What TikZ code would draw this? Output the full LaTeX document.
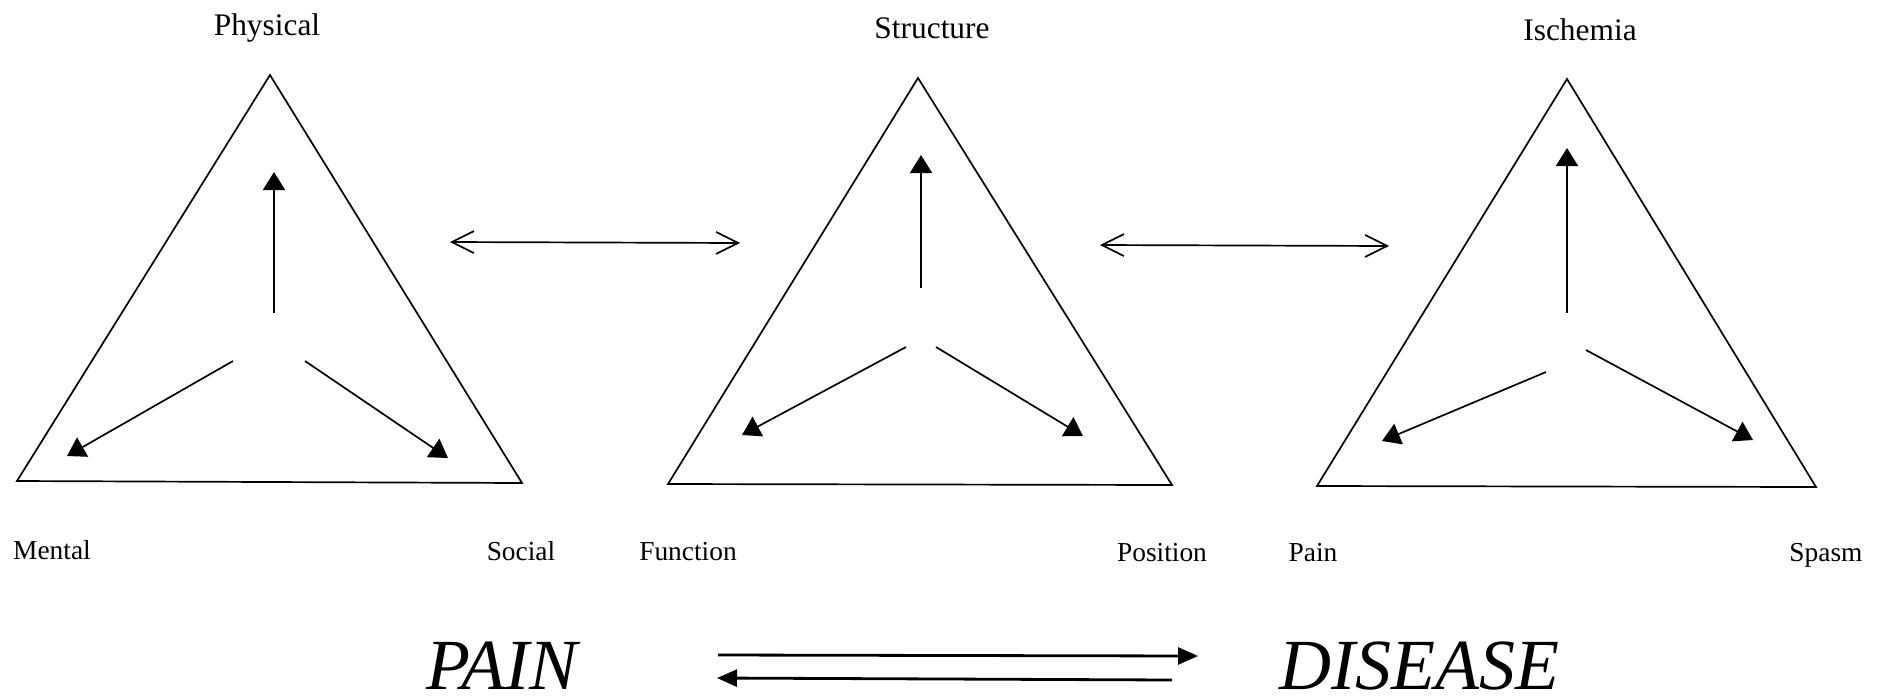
\documentclass[tikz,border=0pt]{standalone}
\usepackage{fontspec}
\setmainfont{Liberation Serif}
\usetikzlibrary{arrows.meta}

\begin{document}
\begin{tikzpicture}[x=0.5pt,y=-0.5pt,
  tri/.style={line width=0.85pt,line join=miter},
  inarr/.style={line width=0.85pt,-{Triangle[length=9pt,width=11pt]}},
  link/.style={line width=0.85pt,{Straight Barb[length=11pt,width=11pt]}-{Straight Barb[length=11pt,width=11pt]}},
  bigarr/.style={line width=1.4pt,-{Triangle[length=10pt,width=8.5pt]}},
  toplbl/.style={anchor=base,inner sep=0pt,font=\fontsize{15.7}{18}\selectfont},
  botlbl/.style={anchor=base,inner sep=0pt,font=\fontsize{13.7}{16}\selectfont},
  bigword/.style={anchor=base,inner sep=0pt,text depth=0pt,font=\fontsize{36}{40}\selectfont\itshape}]
\useasboundingbox (0,0) rectangle (1878,697);
% triangle corners
\coordinate (A1) at (270,75);   \coordinate (B1) at (17,481);   \coordinate (C1) at (522,483);
\coordinate (A2) at (918,78);   \coordinate (B2) at (668,484);  \coordinate (C2) at (1172,485);
\coordinate (A3) at (1567,79);  \coordinate (B3) at (1317,486); \coordinate (C3) at (1816,487);
% inner arrows: tails (U,L,R) and heads (HU,HL,HR)
\coordinate (U1) at (274,313);  \coordinate (HU1) at (274,172);
\coordinate (L1) at (233,361);  \coordinate (HL1) at (67,456);
\coordinate (R1) at (305,361);  \coordinate (HR1) at (448,458);
\coordinate (U2) at (921,288);  \coordinate (HU2) at (921,155);
\coordinate (L2) at (906,347);  \coordinate (HL2) at (742,435);
\coordinate (R2) at (936,347);  \coordinate (HR2) at (1083,436);
\coordinate (U3) at (1567,313); \coordinate (HU3) at (1567,148);
\coordinate (L3) at (1546,372); \coordinate (HL3) at (1382,441);
\coordinate (R3) at (1586,350); \coordinate (HR3) at (1753,440);
\foreach \t in {1,2,3} {
   \draw[tri] (A\t) -- (B\t) -- (C\t) -- cycle;
   \draw[inarr] (U\t) -- (HU\t);
   \draw[inarr] (L\t) -- (HL\t);
   \draw[inarr] (R\t) -- (HR\t);
}
% labels
\node[toplbl] (physical) at (267,35) {Physical};
\node[toplbl] (structure) at (932,38) {Structure};
\node[toplbl] (ischemia) at (1580,40) {Ischemia};
\node[botlbl] (mental) at (52,559) {Mental};
\node[botlbl] (social) at (521,560) {Social};
\node[botlbl] (function) at (688,560) {Function};
\node[botlbl] (position) at (1162,561) {Position};
\node[botlbl] (painlbl) at (1313,561) {Pain};
\node[botlbl] (spasm) at (1826,561) {Spasm};
% links between the triangles
\coordinate (k1a) at (450,242);  \coordinate (k1b) at (740,243);
\coordinate (k2a) at (1100,245); \coordinate (k2b) at (1389,246);
\draw[link] (k1a) -- (k1b);
\draw[link] (k2a) -- (k2b);
% bottom line
\node[bigword] (pain) at (502,689) {PAIN};
\node[bigword] (disease) at (1419,689) {DISEASE};
\coordinate (f1) at (718,655);  \coordinate (f2) at (1198,656);
\coordinate (g1) at (1172,680); \coordinate (g2) at (717,678);
\draw[bigarr] (f1) -- (f2);
\draw[bigarr] (g1) -- (g2);
\end{tikzpicture}
\end{document}
